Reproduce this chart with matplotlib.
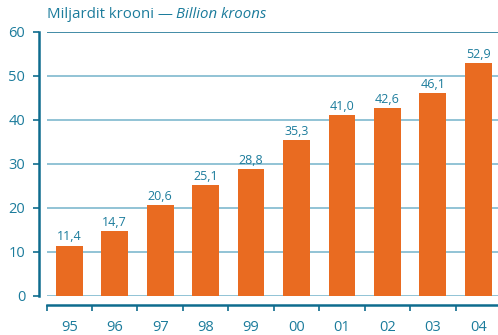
import numpy as np
import matplotlib
matplotlib.use("Agg")
import matplotlib.pyplot as plt

plt.rcParams['font.family'] = ['Open Sans', 'DejaVu Sans']

years = ['95', '96', '97', '98', '99', '00', '01', '02', '03', '04']
values = [11.4, 14.7, 20.6, 25.1, 28.8, 35.3, 41.0, 42.6, 46.1, 52.9]
yticks = [0, 10, 20, 30, 40, 50, 60]

orange = '#E96B21'
teal = '#1C7C9C'
dark = '#0E6C8E'
grid = '#74B3CA'

W, H = 498, 335
fig = plt.figure(figsize=(W / 100, H / 100), dpi=100)
ax = fig.add_axes([46.6 / W, (H - 295.7) / H, 454.4 / W, 264.0 / H])

x = np.arange(len(years))
ax.bar(x, values, width=0.59, color=orange, zorder=3)
for xi, v in zip(x, values):
    ax.annotate(f"{v:.1f}".replace('.', ','), (xi, v), xytext=(0, 1.5),
                textcoords='offset points', ha='center', va='bottom',
                fontsize=9, color=teal, zorder=4)

ax.set_xlim(-0.5, len(years) - 0.5)
ax.set_ylim(0, 60)
ax.set_yticks(yticks)
for t in yticks:
    # top line is drawn a bit darker, like in the source
    ax.axhline(t, color=dark if t == yticks[-1] else grid, lw=1.1, zorder=1)

# y axis
ax.spines['left'].set_position(('outward', 5.3))
ax.spines['left'].set_color(dark)
ax.spines['left'].set_linewidth(1.8)
ax.tick_params(axis='y', direction='out', length=4, width=1.2, color=dark,
               labelcolor=teal, labelsize=10.5, pad=6)

# x axis
ax.spines['bottom'].set_position(('outward', 6.7))
ax.spines['bottom'].set_color(dark)
ax.spines['bottom'].set_linewidth(1.8)
ax.set_xticks(x)
ax.set_xticklabels(years)
ax.set_xticks(np.arange(-0.5, len(years), 1.0), minor=True)
ax.tick_params(axis='x', which='major', length=0, labelcolor=teal,
               labelsize=10.5, pad=10.5)
ax.tick_params(axis='x', which='minor', direction='out', length=4,
               width=1.2, color=dark)

for s in ['top', 'right']:
    ax.spines[s].set_visible(False)

fig.text(46.6 / W, 1 - 15 / H, 'Miljardit krooni — ', color=teal,
         fontsize=10.8, va='center', ha='left')
t1 = fig.texts[-1]
fig.canvas.draw()
bb = t1.get_window_extent()
fig.text(bb.x1 / W, 1 - 15 / H, 'Billion kroons', color=teal,
         fontsize=10.8, va='center', ha='left', style='italic')

fig.savefig('out.png', dpi=100)
